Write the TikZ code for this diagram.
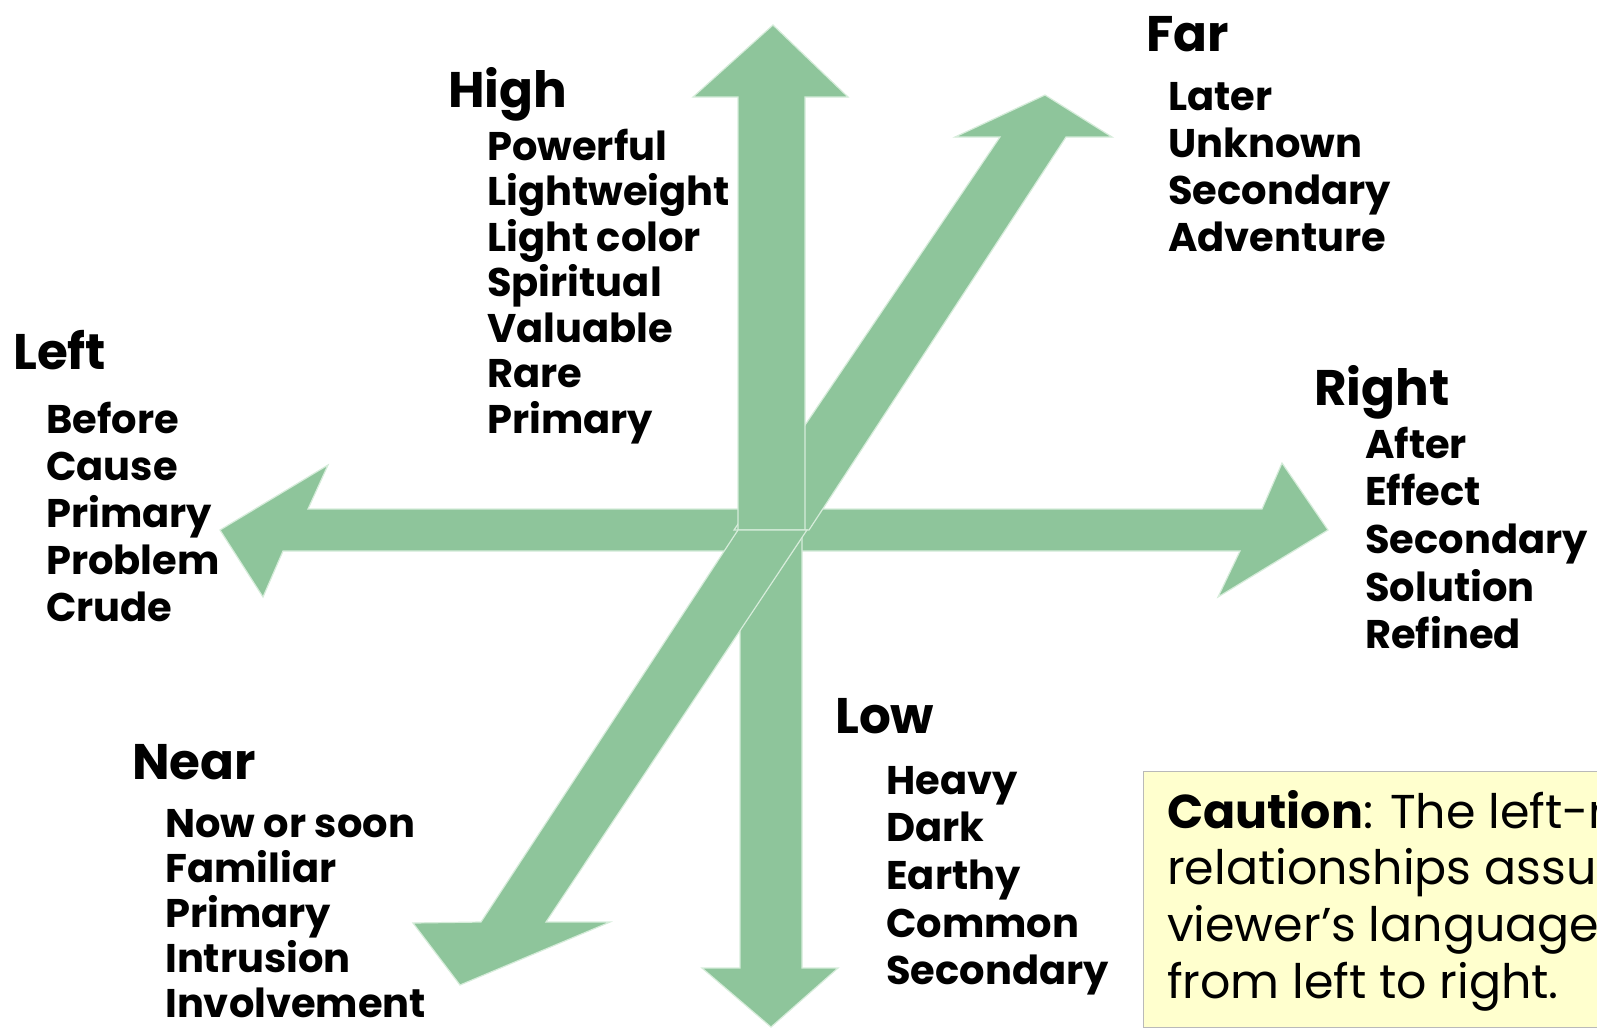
\documentclass[tikz,border=0pt]{standalone}
\usepackage{fontspec}
\setmainfont{Poppins}
\definecolor{arrowgreen}{RGB}{142,197,155}
\definecolor{arrowedge}{RGB}{214,236,218}
\definecolor{notefill}{RGB}{255,255,206}
\begin{document}
\begin{tikzpicture}[x=1pt, y=-1pt]
    % --- Styles ---
    \tikzset{
        head/.style={font=\fontsize{50}{50}\selectfont\bfseries, anchor=base west, inner sep=0pt, text depth=0pt},
        item/.style={font=\fontsize{40}{40}\selectfont\bfseries, anchor=base west, inner sep=0pt, text depth=0pt},
        part/.style={fill=arrowgreen, draw=arrowedge, line width=1.2pt, line join=miter},
        notebox/.style={fill=notefill, draw=gray!55, line width=1pt},
        noteline/.style={font=\fontsize{47.5}{47.5}\selectfont, anchor=base west, inner sep=0pt, text depth=0pt}
    }

    % Cadre de la page
    \useasboundingbox (0,0) rectangle (1597,1029);
    \clip (0,0) rectangle (1597,1029);

    % =====================================================================
    % FLECHES (six morceaux, en perspective)
    % =====================================================================
    % Gauche
    \path[part] (760,509) -- (308,509) -- (328,465) -- (220,530)
        -- (263,597) -- (283,551) -- (760,551) -- cycle;
    % Droite
    \path[part] (780,509) -- (1262,509) -- (1282,463) -- (1328,530)
        -- (1218,597) -- (1240,551) -- (780,551) -- cycle;
    % Loin (haut droite)
    \path[part] (734,530) -- (1000,137) -- (955,137) -- (1045,95)
        -- (1112,137) -- (1066,137) -- (809,530) -- cycle;
    % Bas
    \path[part] (740,530) -- (740,968) -- (702,968) -- (771,1027)
        -- (838,968) -- (802,968) -- (802,530) -- cycle;
    % Haut
    \path[part] (738,530) -- (738,97) -- (693,97) -- (773,25)
        -- (848,97) -- (805,97) -- (805,530) -- cycle;
    % Proche (bas gauche)
    \path[part] (738,530) -- (481,922) -- (413,923) -- (460,985)
        -- (610,922) -- (546,922) -- (807,530) -- cycle;

    % =====================================================================
    % LISTES DE MOTS
    % =====================================================================
    % Haut
    \node[head] (headHigh) at (448,107) {High};
    \foreach \w [count=\i from 0] in {Powerful,Lightweight,Light color,Spiritual,Valuable,Rare,Primary}
        \node[item] (high\i) at (487, 160+45.5*\i) {\w};

    % Loin
    \node[head] (headFar) at (1146,51) {Far};
    \foreach \w [count=\i from 0] in {Later,Unknown,Secondary,Adventure}
        \node[item] (far\i) at (1168, 110+47*\i) {\w};

    % Gauche
    \node[head] (headLeft) at (13,369) {Left};
    \foreach \w [count=\i from 0] in {Before,Cause,Primary,Problem,Crude}
        \node[item] (left\i) at (46, 433+47*\i) {\w};

    % Droite
    \node[head] (headRight) at (1314,405) {Right};
    \foreach \w [count=\i from 0] in {After,Effect,Secondary,Solution,Refined}
        \node[item] (right\i) at (1365, 458+47.7*\i) {\w};

    % Bas
    \node[head] (headLow) at (835,733) {Low};
    \foreach \w [count=\i from 0] in {Heavy,Dark,Earthy,Common,Secondary}
        \node[item] (low\i) at (886, 794+47.7*\i) {\w};

    % Proche
    \node[head] (headNear) at (132,779) {Near};
    \foreach \w [count=\i from 0] in {Now or soon,Familiar,Primary,Intrusion,Involvement}
        \node[item] (near\i) at (165, 837+45*\i) {\w};

    % =====================================================================
    % AVERTISSEMENT
    % =====================================================================
    \draw[notebox] (1143,771) rectangle (1620,1027);
    \foreach \t [count=\i from 0] in {{\textbf{Caution}: The left-right},relationships assume,viewer’s language,from left to right.}
        \node[noteline] (note\i) at (1167, 828+56.7*\i) {\t};

\end{tikzpicture}
\end{document}
